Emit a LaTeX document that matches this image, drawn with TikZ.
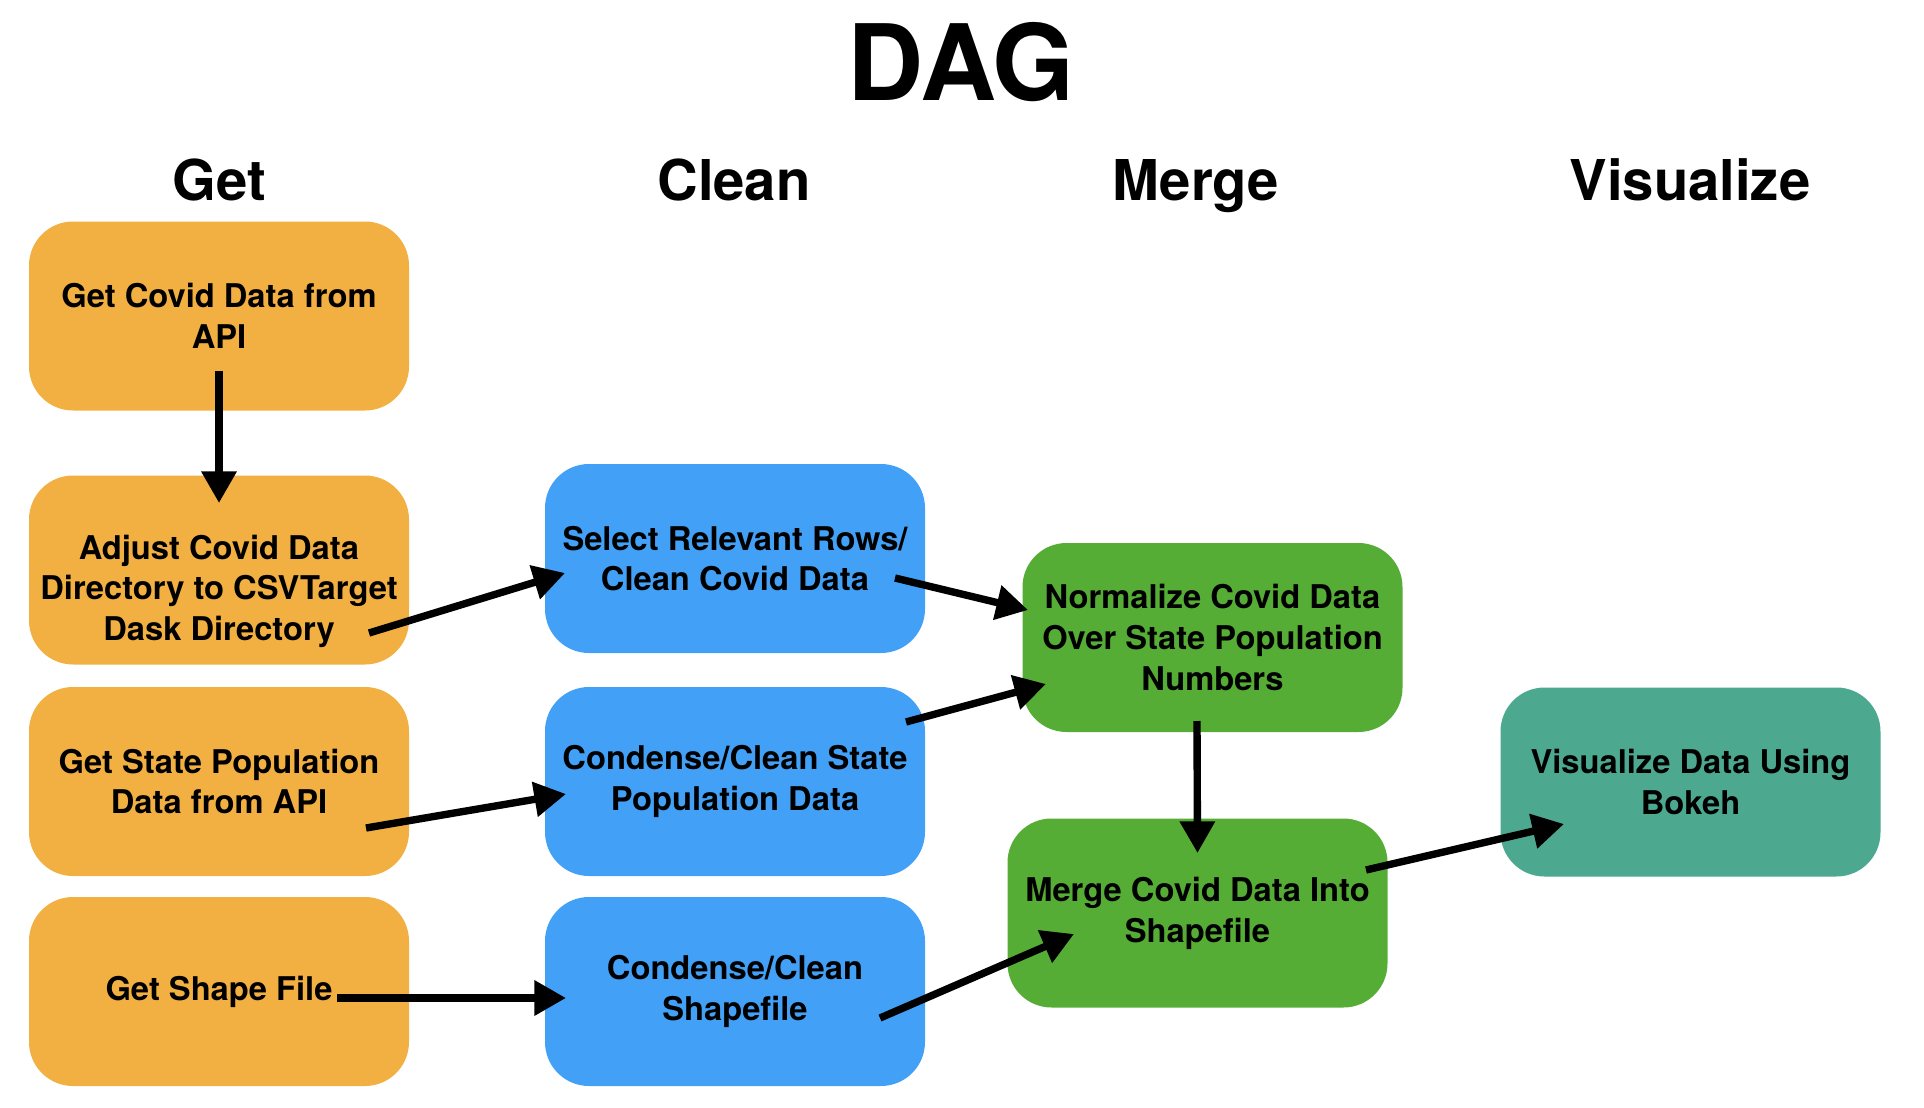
\documentclass[tikz,border=0pt]{standalone}
\usepackage{fontspec}
\setmainfont{TeX Gyre Heros}
\usetikzlibrary{arrows.meta}

\definecolor{getorange}{HTML}{F2B042}
\definecolor{cleanblue}{HTML}{42A1F7}
\definecolor{mergegreen}{HTML}{56AD35}
\definecolor{vizteal}{HTML}{4CA88F}

\begin{document}
\begin{tikzpicture}[
    box/.style={rounded corners=0.44cm, minimum width=3.8cm, minimum height=1.89cm,
        inner sep=0pt, align=center, font=\fontsize{9.3}{11.6}\selectfont\bfseries},
    getbox/.style={box, fill=getorange},
    cleanbox/.style={box, fill=cleanblue},
    mergebox/.style={box, fill=mergegreen},
    vizbox/.style={box, fill=vizteal},
    heading/.style={anchor=base, font=\fontsize{16}{19}\selectfont\bfseries},
    flow/.style={line width=2.1pt, -{Triangle[length=9pt,width=9.6pt]}}
]
        \useasboundingbox (0,0) rectangle (19.24,-11.08);

        \node[anchor=base, font=\fontsize{30}{34}\selectfont\bfseries] (title) at (9.61,-1.00) {DAG};
        \node[heading] (hget)   at ( 2.19,-2.00) {Get};
        \node[heading] (hclean) at ( 7.34,-2.00) {Clean};
        \node[heading] (hmerge) at (11.96,-2.00) {Merge};
        \node[heading] (hviz)   at (16.90,-2.00) {Visualize};

        % get
        \node[getbox] (getapi)   at ( 2.19,-3.16)  {Get Covid Data from\\API};
        \node[getbox] (adjust)   at ( 2.19,-5.70)  {\rule{0pt}{7.5pt}\\Adjust Covid Data\\Directory to CSVTarget\\Dask Directory};
        \node[getbox] (getpop)   at ( 2.19,-7.815) {Get State Population\\Data from API};
        \node[getbox] (getshape) at ( 2.19,-9.915) {Get Shape File};

        % clean
        \node[cleanbox] (select) at ( 7.35,-5.585) {Select Relevant Rows/\\Clean Covid Data};
        \node[cleanbox] (cpop)   at ( 7.35,-7.815) {Condense/Clean State\\Population Data};
        \node[cleanbox] (cshape) at ( 7.35,-9.915) {Condense/Clean\\Shapefile};

        % merge
        \node[mergebox] (normalize) at (12.125,-6.375) {Normalize Covid Data\\Over State Population\\Numbers};
        \node[mergebox] (mergeshp)  at (11.975,-9.13)  {Merge Covid Data Into\\Shapefile};

        % visualize
        \node[vizbox] (visualize) at (16.905,-7.82) {Visualize Data Using\\Bokeh};

        \draw[flow] ([shift={(0,-0.55)}]getapi.center) -- ([shift={(0,0.67)}]adjust.center);
        \draw[flow] ([shift={(1.50,-0.63)}]adjust.center) -- ([shift={(-1.70,-0.145)}]select.center);
        \draw[flow] ([shift={(1.60,-0.195)}]select.center) -- ([shift={(-1.845,0.275)}]normalize.center);
        \draw[flow] ([shift={(1.71,0.595)}]cpop.center) -- ([shift={(-1.665,-0.465)}]normalize.center);
        \draw[flow] ([shift={(1.47,-0.465)}]getpop.center) -- ([shift={(-1.69,-0.125)}]cpop.center);
        \draw[flow] ([shift={(1.18,-0.065)}]getshape.center) -- ([shift={(-1.69,-0.065)}]cshape.center);
        \draw[flow] ([shift={(1.45,-0.265)}]cshape.center) -- ([shift={(-1.235,-0.21)}]mergeshp.center);
        \draw[flow] ([shift={(-0.155,-0.835)}]normalize.center) -- ([shift={(0,0.60)}]mergeshp.center);
        \draw[flow] ([shift={(1.685,0.43)}]mergeshp.center) -- ([shift={(-1.265,-0.42)}]visualize.center);
    \end{tikzpicture}
\end{document}
